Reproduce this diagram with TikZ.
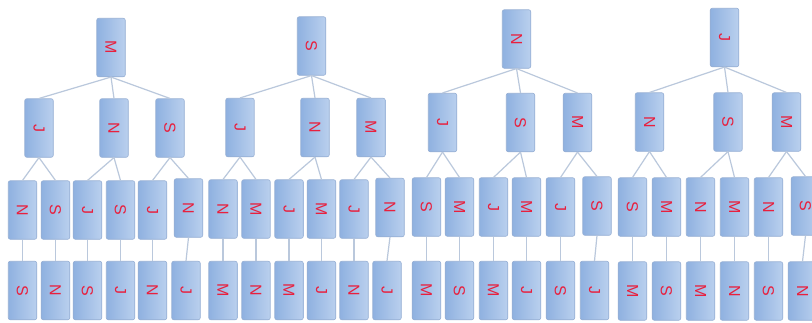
\documentclass[tikz,border=0pt]{standalone}
\usepackage{fontspec}
\setmainfont{Liberation Sans}
\definecolor{boxleft}{RGB}{143,177,224}
\definecolor{boxright}{RGB}{186,208,238}
\definecolor{boxedge}{RGB}{150,175,212}
\definecolor{linkcol}{RGB}{186,200,220}
\definecolor{lettercol}{RGB}{232,32,62}
\tikzset{
  card/.style={rectangle, rounded corners=2pt, draw=boxedge, line width=0.6pt,
    left color=boxleft, right color=boxright, minimum width=28.5pt,
    minimum height=58.5pt, inner sep=0pt, text=lettercol,
    font=\fontsize{16}{16}\selectfont},
  link/.style={draw=linkcol, line width=1.2pt}
}
\newcommand{\ltr}[1]{\rotatebox{-90}{#1}}
\begin{document}
\begin{tikzpicture}[x=1pt,y=-1pt]
\useasboundingbox (0,0) rectangle (812,322);
\clip (0,0) rectangle (812,322);
\fill[white] (0,0) rectangle (812,322);

% ---------- tree 1 ----------
\node[card] (t1r) at (111,47.5) {\ltr{M}};
\node[card] (t1a) at (39,128) {\ltr{J}};
\node[card] (t1b) at (114,128) {\ltr{N}};
\node[card] (t1c) at (170,128) {\ltr{S}};
\node[card] (t1a1) at (22.5,210) {\ltr{N}};
\node[card] (t1a2) at (55.5,210) {\ltr{S}};
\node[card] (t1b1) at (87.5,210) {\ltr{J}};
\node[card] (t1b2) at (120.5,210) {\ltr{S}};
\node[card] (t1c1) at (152.5,210) {\ltr{J}};
\node[card] (t1c2) at (188.5,208) {\ltr{N}};
\node[card] (t1a1x) at (22.5,290.5) {\ltr{S}};
\node[card] (t1a2x) at (55.5,290.5) {\ltr{N}};
\node[card] (t1b1x) at (87.5,290.5) {\ltr{S}};
\node[card] (t1b2x) at (120.5,290.5) {\ltr{J}};
\node[card] (t1c1x) at (152.5,290.5) {\ltr{N}};
\node[card] (t1c2x) at (186,290.5) {\ltr{J}};

% ---------- tree 2 ----------
\node[card] (t2r) at (311.5,46) {\ltr{S}};
\node[card] (t2a) at (240,127.5) {\ltr{J}};
\node[card] (t2b) at (315,127.5) {\ltr{N}};
\node[card] (t2c) at (371,127.5) {\ltr{M}};
\node[card] (t2a1) at (223,209) {\ltr{N}};
\node[card] (t2a2) at (256,209) {\ltr{M}};
\node[card] (t2b1) at (289,209) {\ltr{J}};
\node[card] (t2b2) at (321.5,209) {\ltr{M}};
\node[card] (t2c1) at (354,209) {\ltr{J}};
\node[card] (t2c2) at (390,207.5) {\ltr{N}};
\node[card] (t2a1x) at (223,290.5) {\ltr{M}};
\node[card] (t2a2x) at (256,290.5) {\ltr{N}};
\node[card] (t2b1x) at (289,290.5) {\ltr{M}};
\node[card] (t2b2x) at (321.5,290.5) {\ltr{J}};
\node[card] (t2c1x) at (354,290.5) {\ltr{N}};
\node[card] (t2c2x) at (387,290.5) {\ltr{J}};

% ---------- tree 3 ----------
\node[card] (t3r) at (516.5,39) {\ltr{N}};
\node[card] (t3a) at (442.5,122.5) {\ltr{J}};
\node[card] (t3b) at (520.5,122.5) {\ltr{S}};
\node[card] (t3c) at (577.5,122.5) {\ltr{M}};
\node[card] (t3a1) at (426.5,207) {\ltr{S}};
\node[card] (t3a2) at (459.5,207) {\ltr{M}};
\node[card] (t3b1) at (493.5,207) {\ltr{J}};
\node[card] (t3b2) at (526.5,207) {\ltr{M}};
\node[card] (t3c1) at (560.5,207) {\ltr{J}};
\node[card] (t3c2) at (597,206) {\ltr{S}};
\node[card] (t3a1x) at (426.5,290.5) {\ltr{M}};
\node[card] (t3a2x) at (459.5,290.5) {\ltr{S}};
\node[card] (t3b1x) at (493.5,290.5) {\ltr{M}};
\node[card] (t3b2x) at (526.5,290.5) {\ltr{J}};
\node[card] (t3c1x) at (560.5,290.5) {\ltr{S}};
\node[card] (t3c2x) at (594.5,290.5) {\ltr{J}};

% ---------- tree 4 ----------
\node[card] (t4r) at (724.5,37.5) {\ltr{J}};
\node[card] (t4a) at (649.5,122) {\ltr{N}};
\node[card] (t4b) at (728,122) {\ltr{S}};
\node[card] (t4c) at (786.5,122) {\ltr{M}};
\node[card] (t4a1) at (632.5,207) {\ltr{S}};
\node[card] (t4a2) at (666.5,207) {\ltr{M}};
\node[card] (t4b1) at (700.5,207) {\ltr{N}};
\node[card] (t4b2) at (734.5,207) {\ltr{M}};
\node[card] (t4c1) at (768.5,207) {\ltr{N}};
\node[card] (t4c2) at (805.5,206) {\ltr{S}};
\node[card] (t4a1x) at (632.5,291) {\ltr{M}};
\node[card] (t4a2x) at (666.5,291) {\ltr{S}};
\node[card] (t4b1x) at (700.5,291) {\ltr{M}};
\node[card] (t4b2x) at (734.5,291) {\ltr{N}};
\node[card] (t4c1x) at (768.5,291) {\ltr{S}};
\node[card] (t4c2x) at (802.5,291) {\ltr{N}};

% ---------- connectors ----------
\foreach \t in {1,2,3,4}{
  \foreach \c in {a,b,c}{
    \draw[link] (t\t r.south) -- (t\t\c.north);
    \draw[link] (t\t\c.south) -- (t\t\c1.north);
    \draw[link] (t\t\c.south) -- (t\t\c2.north);
    \draw[link] (t\t\c1.south) -- (t\t\c1x.north);
    \draw[link] (t\t\c2.south) -- (t\t\c2x.north);
  }
}
\end{tikzpicture}
\end{document}
